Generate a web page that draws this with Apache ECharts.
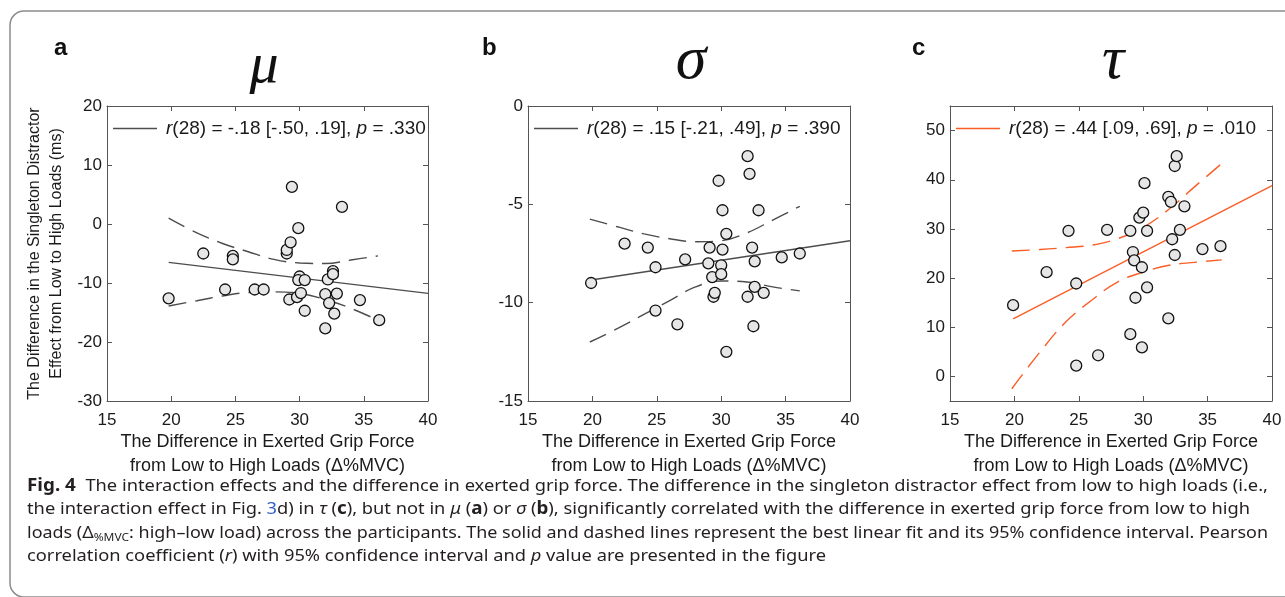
<!DOCTYPE html>
<html>
<head>
<meta charset="utf-8">
<script src="https://cdn.jsdelivr.net/npm/echarts@6/dist/echarts.min.js"></script>
<style>
  html, body { margin: 0; padding: 0; background: #fff; }
  #main { width: 1285px; height: 597px; }
</style>
</head>
<body>
<div id="main"></div>
<script>
// values: x = difference in grip force (%MVC), y = interaction effect (ms)
const muX = [19.8, 22.5, 24.8, 24.8, 24.2, 26.5, 27.2, 29.4, 29.0, 29.0, 29.3, 29.9, 33.3, 29.2, 29.8,
  30.1, 30.0, 29.9, 30.4, 30.4, 32.2, 32.6, 32.6, 32.0, 32.3, 32.9, 32.7, 32.0, 34.7, 36.2];
const muY = [-12.6, -5.0, -5.4, -6.0, -11.1, -11.1, -11.1, 6.3, -5.0, -4.4, -3.1, -0.7, 2.9, -12.8, -12.4,
  -11.7, -8.9, -9.5, -9.5, -14.7, -9.4, -8.0, -8.5, -11.9, -13.4, -11.8, -15.2, -17.7, -12.9, -16.3];

const sigmaX = [19.9, 22.5, 24.3, 24.9, 24.9, 26.6, 27.2, 29.1, 29.0, 29.3, 29.4, 29.5, 29.8, 30.1, 30.0,
  30.0, 30.1, 30.4, 30.4, 32.05, 32.2, 32.9, 32.4, 32.6, 32.6, 32.05, 33.3, 32.5, 34.7, 36.1];
const sigmaY = [-9.0, -7.0, -7.2, -8.2, -10.4, -11.1, -7.8, -7.2, -8.0, -8.7, -9.7, -9.5, -3.8, -5.3, -8.1,
  -8.55, -7.3, -6.5, -12.5, -2.55, -3.45, -5.3, -7.2, -7.9, -9.2, -9.7, -9.5, -11.2, -7.7, -7.5];

const tauX = [19.9, 22.5, 24.2, 24.8, 24.8, 26.5, 27.2, 29.0, 29.0, 29.2, 29.3, 29.4, 29.7, 30.0, 30.1,
  29.9, 29.9, 30.3, 30.3, 31.95, 32.15, 31.95, 32.45, 32.6, 32.25, 32.45, 32.85, 33.2, 34.6, 36.0];
const tauY = [14.5, 21.2, 29.6, 18.9, 2.2, 4.3, 29.8, 29.6, 8.6, 25.3, 23.6, 16.0, 32.3, 33.3, 39.3,
  22.2, 5.9, 29.6, 18.1, 36.5, 35.5, 11.8, 42.8, 44.8, 27.9, 24.7, 29.8, 34.6, 25.9, 26.5];

// best linear fit, [x, y] at both ends
const muFit = [[19.8, -6.5], [40, -11.75]];
const sigmaFit = [[19.9, -8.85], [40, -6.85]];
const tauFit = [[19.9, 11.7], [40, 38.8]];

// 95% confidence band, read at these x positions
const ciX = [19.8, 22, 24, 26, 28, 30, 32, 34, 36.1];
const muUpper = [1.0, -1.5, -3.3, -4.7, -6.0, -6.6, -6.7, -6.1, -5.4];
const muLower = [-13.9, -13.0, -12.2, -11.6, -11.5, -11.75, -12.8, -14.3, -16.3];
const sigmaUpper = [-5.75, -6.15, -6.5, -6.75, -6.9, -6.85, -6.45, -5.8, -5.1];
const sigmaLower = [-12.0, -11.3, -10.6, -9.9, -9.2, -8.9, -8.95, -9.2, -9.4];
const tauUpper = [25.5, 25.8, 26.2, 26.7, 28.0, 30.3, 34.0, 38.6, 43.3];
const tauLower = [-2.5, 5.0, 11.1, 15.5, 19.2, 21.2, 22.6, 23.2, 23.7];

const xTicks = [15, 40, 5];
const legendText = {
  fitMu: '{i|r}(28) = -.18 [-.50, .19], {i|p} = .330',
  fitSigma: '{i|r}(28) = .15 [-.21, .49], {i|p} = .390',
  fitTau: '{i|r}(28) = .44 [.09, .69], {i|p} = .010'
};

const captionLines = [
  '{b|Fig. 4}  The interaction effects and the difference in exerted grip force. The difference in the singleton distractor effect from low to high loads (i.e.,',
  'the interaction effect in Fig. {link|3}d) in {i|τ} ({b|c}), but not in {i|μ} ({b|a}) or {i|σ} ({b|b}), significantly correlated with the difference in exerted grip force from low to high',
  'loads (Δ{sub|%MVC}: high–low load) across the participants. The solid and dashed lines represent the best linear fit and its 95% confidence interval. Pearson',
  'correlation coefficient ({i|r}) with 95% confidence interval and {i|p} value are presented in the figure'
];
// right edge of each printed caption line
const captionEnd = [1268, 1250, 1268, 826];
const captionY = [486, 509.5, 533, 556];

const SANS = '"Liberation Sans", Arial, sans-serif';
const CAP = '"Noto Sans", sans-serif';
const GRAY = '#4d4d4d';
const ORANGE = '#fb5d27';
const AXIS = '#555';
const INK = '#1a1a1a';

const panels = [
  { left: 107, width: 321, min: -30, max: 20, interval: 10, x: muX, y: muY, fit: muFit, up: muUpper, lo: muLower, color: GRAY, key: 'fitMu' },
  { left: 528, width: 322, min: -15, max: 0, interval: 5, x: sigmaX, y: sigmaY, fit: sigmaFit, up: sigmaUpper, lo: sigmaLower, color: GRAY, key: 'fitSigma' },
  { left: 950, width: 322, min: -5, max: 55, ticks: [0, 10, 20, 30, 40, 50], x: tauX, y: tauY, fit: tauFit, up: tauUpper, lo: tauLower, color: ORANGE, key: 'fitTau' }
];

const myChart = echarts.init(document.getElementById('main'));

let grid = [], xAxis = [], yAxis = [], series = [], legend = [];
panels.forEach(function (p, i) {
  grid.push({ left: p.left, top: 106, width: p.width, height: 295, outerBoundsMode: 'none' });
  const tick = { inside: true, length: 5, lineStyle: { color: AXIS } };
  const line = { show: true, onZero: false, lineStyle: { color: AXIS, width: 1 } };
  const xBase = { type: 'value', gridIndex: i, min: xTicks[0], max: xTicks[1], interval: xTicks[2], splitLine: { show: false }, axisLine: line, axisTick: tick };
  xAxis.push(Object.assign({}, xBase, {
    position: 'bottom',
    axisLabel: { color: INK, fontSize: 17, fontFamily: SANS, margin: 11 },
    name: 'The Difference in Exerted Grip Force\nfrom Low to High Loads (Δ%MVC)',
    nameLocation: 'middle', nameGap: 29,
    nameTextStyle: { color: INK, fontSize: 18, fontFamily: SANS, lineHeight: 24 }
  }));
  xAxis.push(Object.assign({}, xBase, { position: 'top', axisLabel: { show: false } }));

  let yBase = { type: 'value', gridIndex: i, min: p.min, max: p.max, splitLine: { show: false }, axisLine: line, axisTick: Object.assign({}, tick) };
  if (p.interval) yBase.interval = p.interval;
  if (p.ticks) yBase.axisTick.customValues = p.ticks;
  let yLeft = Object.assign({}, yBase, {
    position: 'left',
    axisLabel: { color: INK, fontSize: 17, fontFamily: SANS, margin: 5 }
  });
  if (p.ticks) yLeft.axisLabel.customValues = p.ticks;
  if (i === 0) {
    yLeft.name = 'The Difference in the Singleton Distractor\nEffect from Low to High Loads (ms)';
    yLeft.nameLocation = 'middle';
    yLeft.nameGap = 39;
    yLeft.nameRotate = 90;
    yLeft.nameTextStyle = { color: INK, fontSize: 16, fontFamily: SANS, lineHeight: 22 };
  }
  yAxis.push(yLeft);
  yAxis.push(Object.assign({}, yBase, { position: 'right', axisLabel: { show: false } }));

  const xi = i * 2, yi = i * 2;
  series.push({
    name: p.key, type: 'line', xAxisIndex: xi, yAxisIndex: yi, data: p.fit,
    symbol: 'none', lineStyle: { color: p.color, width: 1.4 }, itemStyle: { color: p.color }, z: 2
  });
  [p.up, p.lo].forEach(function (band, k) {
    series.push({
      name: p.key + (k ? '-lower' : '-upper'), type: 'line', xAxisIndex: xi, yAxisIndex: yi,
      data: ciX.map(function (v, j) { return [v, band[j]]; }),
      symbol: 'none', smooth: 0.4, lineStyle: { color: p.color, width: 1.4, type: [18, 9] }, z: 2
    });
  });
  series.push({
    type: 'scatter', xAxisIndex: xi, yAxisIndex: yi,
    data: p.x.map(function (v, j) { return [v, p.y[j]]; }),
    symbolSize: 11,
    itemStyle: { color: '#e6e6e6', borderColor: '#111', borderWidth: 1.3, opacity: 1 },
    z: 3
  });
  legend.push({
    data: [{ name: p.key, icon: 'rect' }], left: p.left + 6, top: 119, itemWidth: 44, itemHeight: 1.6,
    selectedMode: false, padding: 0, itemStyle: { color: p.color, borderWidth: 0 },
    formatter: function (name) { return legendText[name]; },
    textStyle: { color: INK, fontSize: 19, fontFamily: SANS, padding: [0, 0, 0, 4],
      rich: { i: { fontStyle: 'italic', fontSize: 19, fontFamily: SANS, color: INK } } }
  });
});

const captionRich = {
  b: { fontWeight: 'bold', fontSize: 17, fontFamily: CAP, fill: '#231f20' },
  i: { fontStyle: 'italic', fontSize: 16.5, fontFamily: CAP, fill: '#231f20' },
  link: { fontSize: 16.5, fontFamily: CAP, fill: '#2f5fc4' },
  sub: { fontSize: 11, fontFamily: CAP, fill: '#231f20', padding: [10, 0, 0, 0] }
};

let graphic = [
  { type: 'rect', shape: { x: 10, y: 11, width: 1300, height: 586, r: 14 }, style: { fill: 'none', stroke: '#8c8c8c', lineWidth: 1.5 }, silent: true },
  { type: 'text', x: 54, y: 48, style: { text: 'a', fontWeight: 'bold', fontSize: 24, fontFamily: SANS, fill: '#111', verticalAlign: 'middle' } },
  { type: 'text', x: 482, y: 48, style: { text: 'b', fontWeight: 'bold', fontSize: 24, fontFamily: SANS, fill: '#111', verticalAlign: 'middle' } },
  { type: 'text', x: 912, y: 48, style: { text: 'c', fontWeight: 'bold', fontSize: 24, fontFamily: SANS, fill: '#111', verticalAlign: 'middle' } },
  { type: 'text', x: 264, y: 67, style: { text: 'μ', fontStyle: 'italic', fontSize: 58, fontFamily: '"Liberation Serif", serif', fill: '#111', align: 'center', verticalAlign: 'middle' } },
  { type: 'text', x: 691, y: 62, style: { text: 'σ', fontStyle: 'italic', fontSize: 62, fontFamily: '"Liberation Serif", serif', fill: '#111', align: 'center', verticalAlign: 'middle' } },
  { type: 'text', x: 1113, y: 62, style: { text: 'τ', fontStyle: 'italic', fontSize: 62, fontFamily: '"Liberation Serif", serif', fill: '#111', align: 'center', verticalAlign: 'middle' } }
];

// condense each caption line to the width of the printed one
captionLines.forEach(function (t, k) {
  const style = { text: t, fontSize: 16.5, fontFamily: CAP, fill: '#231f20', verticalAlign: 'middle', rich: captionRich };
  const w = new echarts.graphic.Text({ style: style }).getBoundingRect().width;
  graphic.push({ type: 'text', x: 27, y: captionY[k], scaleX: (captionEnd[k] - 27) / w, style: style });
});

const option = {
  backgroundColor: '#fff',
  animation: false,
  grid: grid,
  xAxis: xAxis,
  yAxis: yAxis,
  legend: legend,
  series: series,
  graphic: graphic
};

myChart.setOption(option);
window.addEventListener('resize', function () {
  myChart.resize();
});
</script>
</body>
</html>
